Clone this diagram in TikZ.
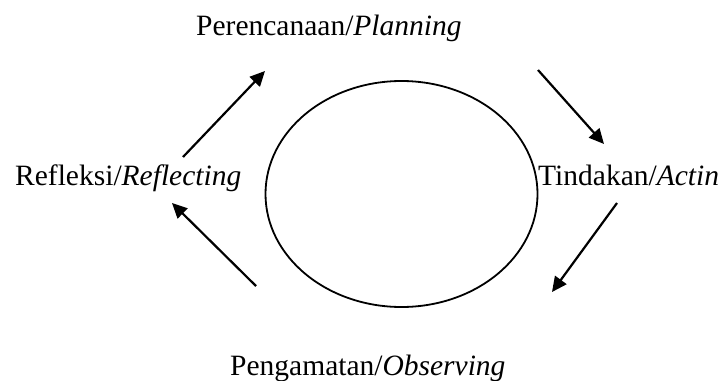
\documentclass[tikz,border=0pt]{standalone}
\usepackage{fontspec}
\setmainfont{Liberation Serif}
\usepackage{tikz}
\usetikzlibrary{arrows.meta,shapes.geometric}
\tikzset{
  stage/.style={inner sep=0pt, anchor=base west, font=\fontsize{29.5}{34}\selectfont},
  ring/.style={ellipse, draw=black, line width=1.8pt, minimum width=272pt, minimum height=226pt},
  flow/.style={-{Triangle[length=15pt,width=14pt]}, draw=black, line width=2.2pt}
}

\begin{document}
\begin{tikzpicture}[x=1pt,y=-1pt]
  \useasboundingbox (0,0) rectangle (719,380);
  \node[ring] (cycle) at (401.5,194) {};
  \node[stage] (plan) at (196,35) {Perencanaan/\textit{Planning}};
  \node[stage] (act) at (538,185) {Tindakan/\textit{Actin}};
  \node[stage] (obs) at (230,375) {Pengamatan/\textit{Observing}};
  \node[stage] (refl) at (15,185) {Refleksi/\textit{Reflecting}};
  % free ends of the four arrows
  \coordinate (a1) at (183,157); \coordinate (b1) at (265,71);
  \coordinate (a2) at (538,70);  \coordinate (b2) at (604,144);
  \coordinate (a3) at (617,203); \coordinate (b3) at (552,292);
  \coordinate (a4) at (256,286); \coordinate (b4) at (172,203);
  \draw[flow] (a1)--(b1); \draw[flow] (a2)--(b2);
  \draw[flow] (a3)--(b3); \draw[flow] (a4)--(b4);
\end{tikzpicture}
\end{document}
